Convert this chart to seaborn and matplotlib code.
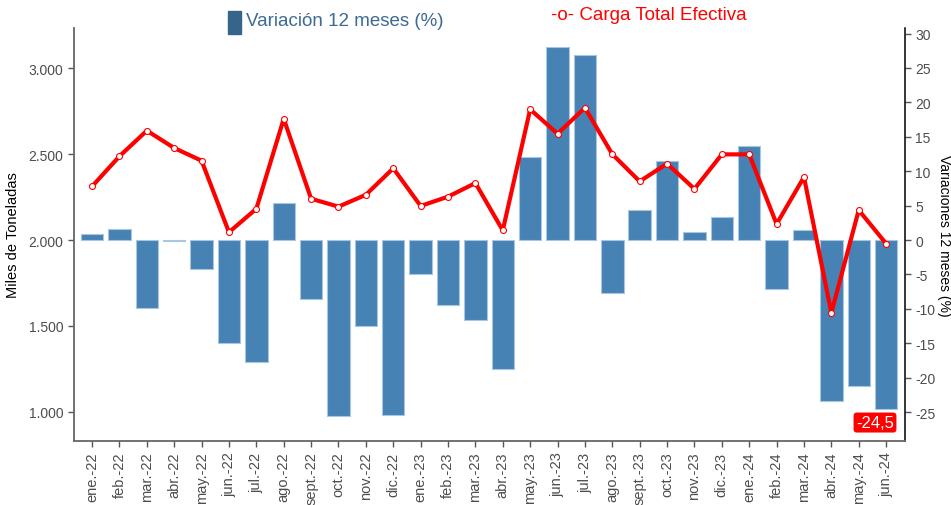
import numpy as np
import pandas as pd
import matplotlib
matplotlib.use("Agg")
import matplotlib.pyplot as plt
import seaborn as sns
from matplotlib.patches import Rectangle
from matplotlib.ticker import FuncFormatter, MultipleLocator

# datos
meses = ["ene.-22", "feb.-22", "mar.-22", "abr.-22", "may.-22", "jun.-22",
         "jul.-22", "ago.-22", "sept.-22", "oct.-22", "nov.-22", "dic.-22",
         "ene.-23", "feb.-23", "mar.-23", "abr.-23", "may.-23", "jun.-23",
         "jul.-23", "ago.-23", "sept.-23", "oct.-23", "nov.-23", "dic.-23",
         "ene.-24", "feb.-24", "mar.-24", "abr.-24", "may.-24", "jun.-24"]
carga_total = [2312, 2487, 2636, 2535, 2461, 2045, 2182, 2705, 2240, 2194,
               2263, 2417, 2198, 2252, 2331, 2056, 2760, 2618, 2769, 2499,
               2341, 2444, 2297, 2498, 2498, 2093, 2366, 1576, 2174, 1979]
variacion = [0.8, 1.6, -9.9, -0.2, -4.2, -15.0, -17.7, 5.4, -8.5, -25.6,
             -12.5, -25.4, -5.0, -9.4, -11.6, -18.8, 12.1, 28.1, 26.9, -7.7,
             4.4, 11.5, 1.2, 3.3, 13.7, -7.1, 1.5, -23.4, -21.2, -24.5]

sns.set_theme(style="white")
plt.rcParams['font.family'] = ['Liberation Sans', 'DejaVu Sans']
plt.rcParams['axes.unicode_minus'] = False

pos = np.arange(len(meses))
df = pd.DataFrame({"pos": pos, "carga": carga_total, "var": variacion})

fig = plt.figure(figsize=(9.51, 5.06), dpi=100)
ax = fig.add_axes([74 / 951, 1 - 442 / 506, 831 / 951, 413 / 506])
ax2 = ax.twinx()

# barras: variacion 12 meses (eje derecho)
sns.barplot(data=df, x="pos", y="var", ax=ax2, native_scale=True, orient="x",
            color="#4682B4", saturation=1, width=0.82, errorbar=None,
            edgecolor="#a9c6e0", linewidth=0.8)

# linea: carga total (eje izquierdo)
sns.lineplot(data=df, x="pos", y="carga", ax=ax, color="red", linewidth=3.0,
             marker="o", markersize=4.3, markerfacecolor="white",
             markeredgecolor="red", markeredgewidth=0.8, sort=False)

ax.set_zorder(ax2.get_zorder() + 1)
ax.patch.set_visible(False)

ax.set_xlim(-0.66, 29.69)
ax.set_ylim(831, 3233)
ax2.set_ylim(-29.2, 30.8)

ax.set_xticks(pos)
ax.set_xticklabels(meses, rotation=90)
ax.yaxis.set_major_locator(MultipleLocator(500))
ax.yaxis.set_major_formatter(FuncFormatter(lambda v, p: f"{int(v):,}".replace(",", ".")))
ax2.yaxis.set_major_locator(MultipleLocator(5))

ax.set_xlabel("")
ax.set_ylabel("Miles de Toneladas", fontsize=10.5, color="black", labelpad=6)
ax2.set_xlabel("")
ax2.set_ylabel("Variaciones 12 meses (%)", fontsize=10, color="black",
               rotation=270, labelpad=1, va="bottom")

ax.tick_params(axis="x", which="major", labelsize=10.5, labelcolor="#4d4d4d",
               color="#555555", length=4, width=1, bottom=True)
ax.tick_params(axis="y", which="major", labelsize=10, labelcolor="#4d4d4d",
               color="#555555", length=4, width=1, left=True)
ax2.tick_params(axis="y", which="major", labelsize=10, labelcolor="#4d4d4d",
                color="#555555", length=4, width=1, right=True)

for s in ["top", "right"]:
    ax.spines[s].set_visible(False)
for s in ["left", "bottom"]:
    ax.spines[s].set_color("#666666")
    ax.spines[s].set_linewidth(1.3)
for s in ["top", "left", "bottom"]:
    ax2.spines[s].set_visible(False)
ax2.spines["right"].set_color("black")
ax2.spines["right"].set_linewidth(1.1)

# etiqueta del ultimo valor
ax2.annotate(f"{variacion[-1]:.1f}".replace(".", ","), xy=(pos[-1], variacion[-1]),
             xytext=(-8, -10), textcoords="offset points", ha="center", va="center",
             color="white", fontsize=12,
             bbox=dict(boxstyle="round,pad=0.15,rounding_size=0.2", fc="red", ec="none"))

# leyenda superior
fig.add_artist(Rectangle((228 / 951, 1 - 35 / 506), 13 / 951, 23 / 506,
                         transform=fig.transFigure, color="#36648B"))
fig.text(246 / 951, 1 - 22 / 506, "Variación 12 meses (%)", ha="left", va="center",
         fontsize=13.5, color="#3d6a94")
fig.text(551 / 951, 1 - 16 / 506, "-o- Carga Total Efectiva", ha="left", va="center",
         fontsize=13.5, color="red")

fig.savefig("out.png", dpi=100)
